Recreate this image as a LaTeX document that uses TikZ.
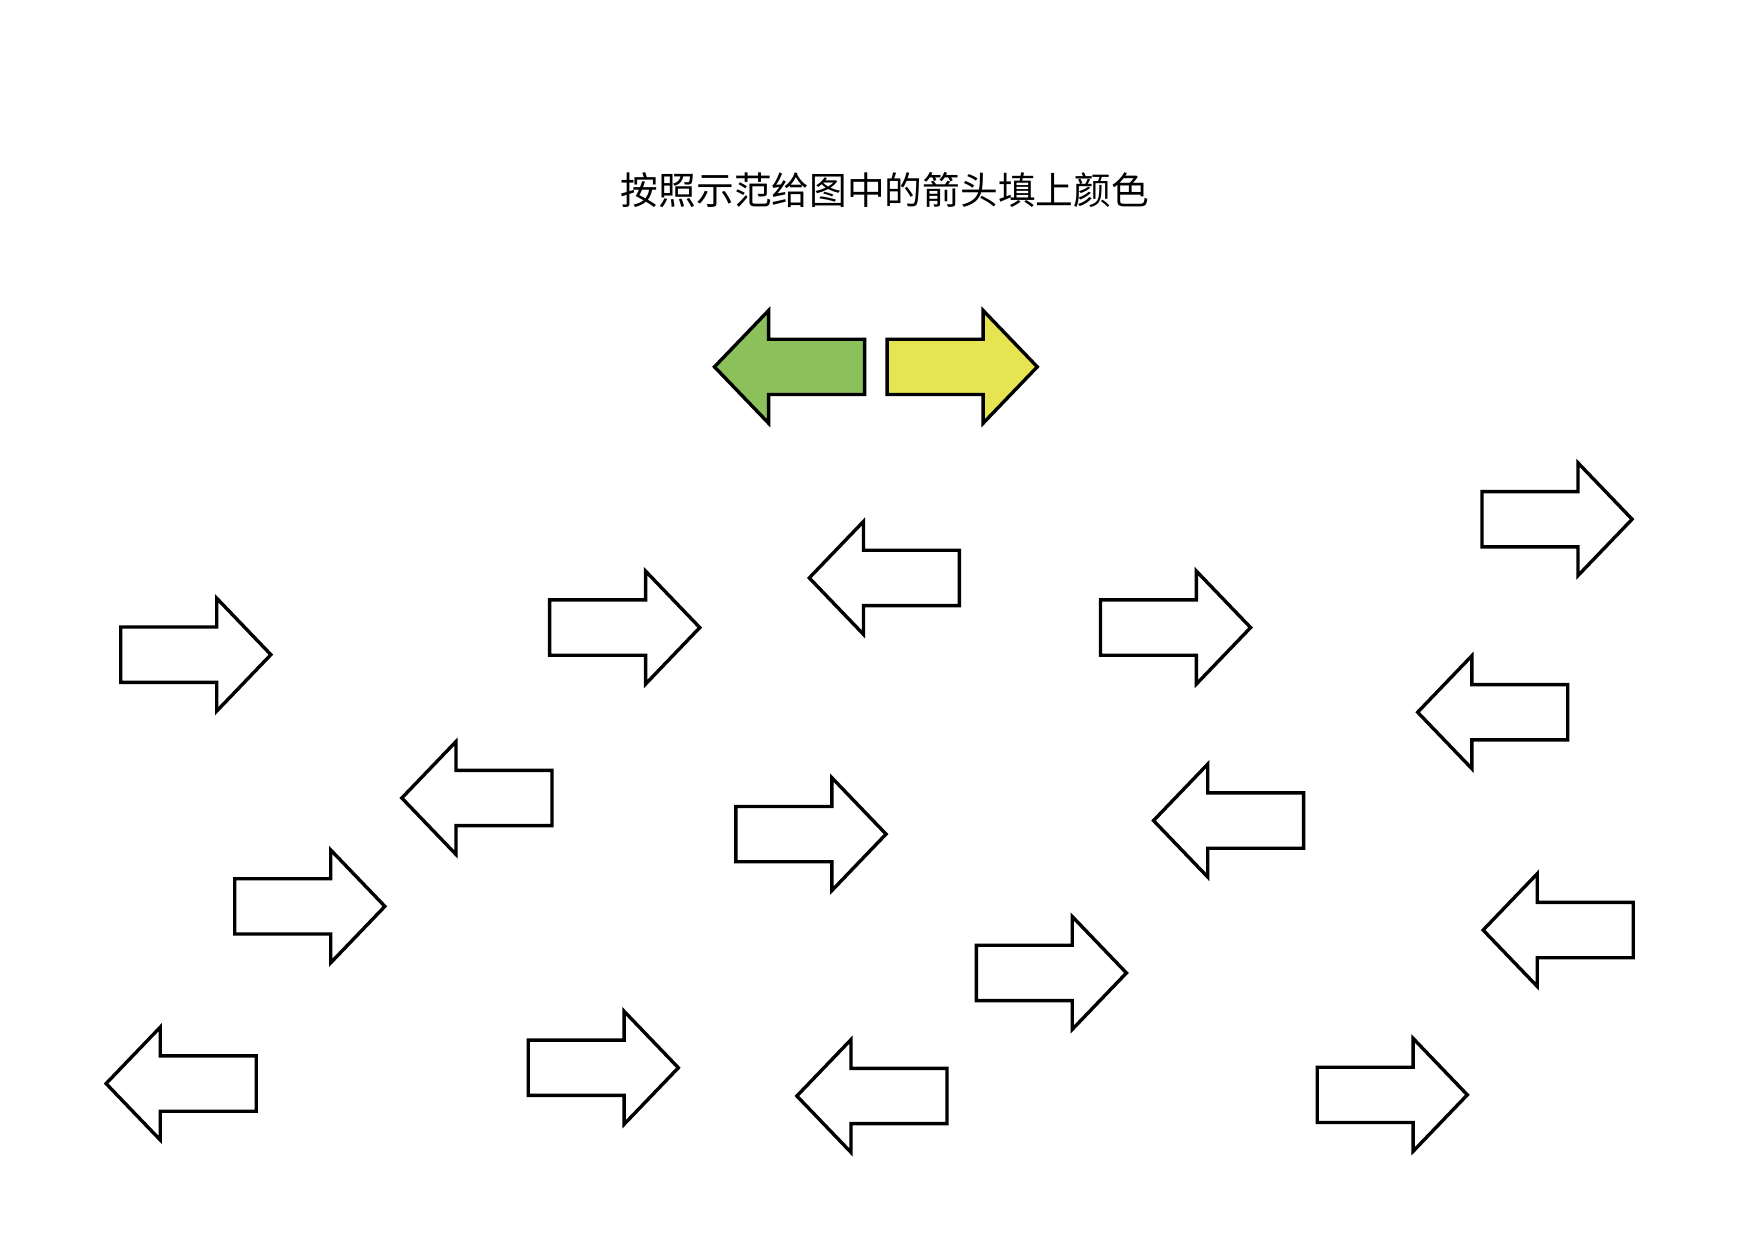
\documentclass[tikz,border=0pt]{standalone}
\usepackage{fontspec}
\newfontfamily\cjk{Noto Sans CJK SC}
\usetikzlibrary{calc}
\definecolor{samplegreen}{RGB}{139,192,90}
\definecolor{sampleyellow}{RGB}{230,228,80}
% block arrows: tail x, middle y
\newcommand{\rarr}[3][white]{\draw[arr, fill=#1] (#2,#3) ++(0,-24.5) -- ++(85,0) -- ++(0,-25.5) -- ++(48,50) -- ++(-48,50) -- ++(0,-25.5) -- ++(-85,0) -- cycle;}
\newcommand{\larr}[3][white]{\draw[arr, fill=#1] (#2,#3) ++(0,-24.5) -- ++(-85,0) -- ++(0,-25.5) -- ++(-48,50) -- ++(48,50) -- ++(0,-25.5) -- ++(85,0) -- cycle;}
\begin{document}
\begin{tikzpicture}[x=0.01cm, y=-0.01cm, arr/.style={line width=0.85pt, line join=miter}]
\useasboundingbox (0,0) rectangle (1554,1099);
\node (title) at (784,168) {\cjk\fontsize{9.5}{11}\selectfont 按照示范给图中的箭头填上颜色};
% samples
\larr[samplegreen]{766}{325}
\rarr[sampleyellow]{786}{325}
% right
\rarr{107}{580} \rarr{487}{556} \rarr{975}{556} \rarr{1313}{460}
\rarr{208}{803} \rarr{652}{739} \rarr{865}{862} \rarr{468}{946} \rarr{1167}{970}
% left
\larr{850}{512} \larr{1389}{631} \larr{489}{707} \larr{1155}{727}
\larr{1447}{824} \larr{227}{960} \larr{839}{971}
\end{tikzpicture}
\end{document}
